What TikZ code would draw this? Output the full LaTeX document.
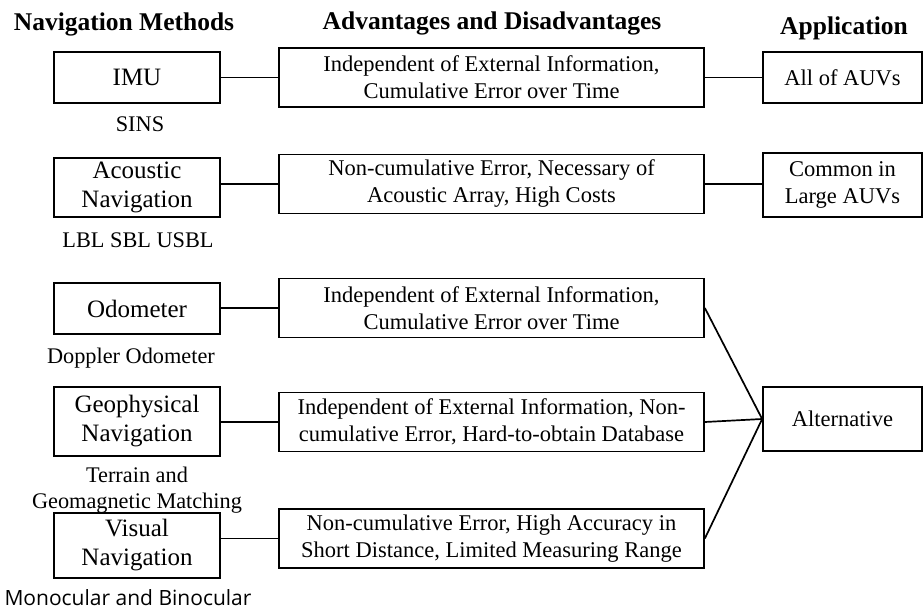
\documentclass[tikz,border=0pt]{standalone}
\usepackage{fontspec}
\setmainfont{Liberation Serif}
\newfontfamily\labelsans{Open Sans}

\begin{document}
\begin{tikzpicture}[x=1pt,y=-1pt,
  box/.style={draw,line width=1.7pt,inner sep=0pt,align=center},
  method/.style={box,minimum width=166pt,font=\fontsize{25}{29}\selectfont},
  feature/.style={box,minimum width=425pt,minimum height=59pt,font=\fontsize{22.5}{27}\selectfont},
  usage/.style={box,minimum width=159pt,font=\fontsize{22.5}{27}\selectfont},
  heading/.style={anchor=base,font=\fontsize{25.5}{30}\selectfont\bfseries},
  sublabel/.style={anchor=base,font=\fontsize{22.3}{27}\selectfont},
  link/.style={line width=1.7pt}]
\useasboundingbox (0,0) rectangle (923,609);

\node[heading] (hmeth) at (124,31) {Navigation Methods};
\node[heading] (hadv) at (492,30) {Advantages and Disadvantages};
\node[heading] (happ) at (844,35) {Application};

\node[method,minimum height=51pt] (imu) at (137,77.5) {IMU};
\node[method,minimum height=59pt] (acou) at (137,187.5) {Acoustic\\Navigation};
\node[method,minimum height=51pt] (odo) at (137,308.5) {Odometer};
\node[method,minimum height=69pt] (geo) at (137,421.5) {Geophysical\\Navigation};
\node[method,minimum height=65pt] (vis) at (137,545.5) {Visual\\Navigation};

\node[sublabel] (sins) at (140,132) {SINS};
\node[sublabel] (lbl) at (138,248) {LBL SBL USBL};
\node[sublabel] (dopp) at (131,363) {Doppler Odometer};
\node[sublabel] (terr) at (137,482) {Terrain and};
\node[sublabel] (geom) at (137,508) {Geomagnetic Matching};
\node[anchor=base,font=\labelsans\fontsize{21}{25}\selectfont] (mono) at (128,605) {Monocular and Binocular};

\node[feature] (adv1) at (491.5,77.5) {Independent of External Information,\\Cumulative Error over Time};
\node[feature] (adv2) at (491.5,184) {Non-cumulative Error, Necessary of\\Acoustic Array, High Costs};
\node[feature] (adv3) at (491.5,308) {Independent of External Information,\\Cumulative Error over Time};
\node[feature] (adv4) at (491.5,422) {Independent of External Information, Non-\\cumulative Error, Hard-to-obtain Database};
\node[feature] (adv5) at (491.5,538.5) {Non-cumulative Error, High Accuracy in\\Short Distance, Limited Measuring Range};

\node[usage,minimum height=51pt] (all) at (842.5,77.5) {All of AUVs};
\node[usage,minimum height=64pt] (large) at (842.5,185) {Common in\\Large AUVs};
\node[usage,minimum height=64pt] (alt) at (842.5,419) {Alternative};

\draw[link] (imu) -- (adv1);
\draw[link] (adv2.west -| acou.east) -- (adv2.west);
\draw[link] (adv3.west -| odo.east) -- (adv3.west);
\draw[link] (adv4.west -| geo.east) -- (adv4.west);
\draw[link] (adv5.west -| vis.east) -- (adv5.west);
\draw[link] (adv1) -- (all);
\draw[link] (adv2.east) -- (adv2.east -| large.west);
\draw[link] (adv3.east) -- (alt.west);
\draw[link] (adv4.east) -- (alt.west);
\draw[link] (adv5.east) -- (alt.west);
\end{tikzpicture}
\end{document}
